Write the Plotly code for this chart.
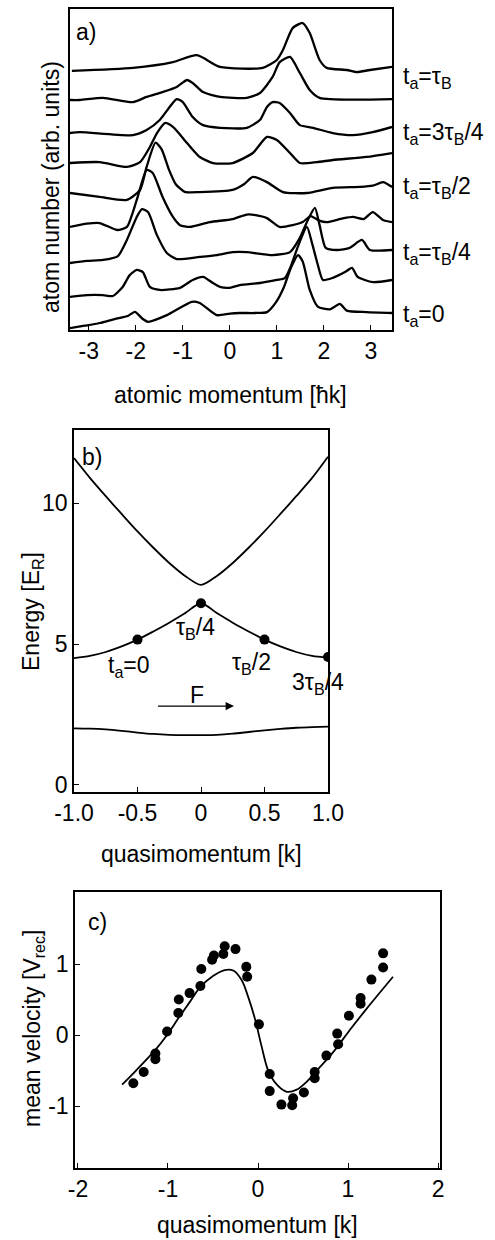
import plotly.graph_objects as go

W, H = 495, 1240
FONT = "Liberation Sans, Arial, Helvetica, sans-serif"

# ---------------- Panel a: momentum distributions (offset traces) ----------------
t0_x = [-3.40, -3.09, -2.77, -2.45, -2.17, -2.02, -1.85, -1.74, -1.34, -0.81, -0.64, -0.28, 0.0, 0.21, 0.53, 0.79,
        0.98, 1.15, 1.30, 1.45, 1.55, 1.70, 1.87, 2.13, 2.34, 2.49, 2.91, 3.45]
t0_y = [-0.50, -0.42, -0.33, -0.20, -0.10, 0.04, -0.20, -0.29, -0.07, 0.37, 0.33, -0.07, -0.02, 0.0, 0.0, 0.03,
        0.35, 0.85, 1.49, 1.91, 1.70, 0.76, 0.21, 0.12, 0.30, 0.08, 0.03, 0.0]

t1_x = [-3.40, -3.04, -2.70, -2.49, -2.28, -2.13, -1.98, -1.85, -1.70, -1.49, -1.06, -0.79, -0.57, -0.36, -0.21, 0.0,
        0.21, 0.64, 1.0, 1.17, 1.30, 1.45, 1.64, 1.75, 1.87, 1.98, 2.19, 2.45, 2.60, 2.72, 3.04, 3.45]
t1_y = [-0.47, -0.41, -0.41, -0.44, -0.14, 0.25, 0.42, 0.35, -0.14, -0.24, -0.17, 0.09, 0.19, -0.01, -0.14, -0.17,
        -0.08, -0.01, 0.09, 0.15, 0.55, 1.20, 1.84, 1.30, 0.60, 0.09, 0.16, 0.35, 0.49, 0.19, 0.02, 0.09]

t2_x = [-3.40, -3.04, -2.70, -2.38, -2.19, -1.98, -1.87, -1.74, -1.55, -1.34, -1.13, -0.64, -0.28, 0.06, 0.36, 0.91,
        1.28, 1.49, 1.66, 1.81, 1.91, 2.04, 2.28, 2.55, 2.81, 2.98, 3.45]
t2_y = [-0.35, -0.28, -0.25, -0.12, 0.41, 1.17, 1.43, 1.33, 0.57, -0.02, -0.22, -0.15, -0.09, 0.01, 0.01, -0.09,
        0.01, 0.48, 1.07, 1.47, 0.90, 0.15, 0.08, 0.15, 0.41, 0.08, 0.08]

t3_x = [-3.40, -3.04, -2.77, -2.40, -2.19, -1.98, -1.77, -1.64, -1.43, -1.21, -1.06, -0.85, -0.43, 0.06, 0.36, 0.55,
        0.79, 1.06, 1.34, 1.55, 1.72, 1.90, 2.06, 2.40, 2.62, 2.85, 3.04, 3.26, 3.45]
t3_y = [-0.16, -0.05, -0.03, -0.26, -0.16, 0.73, 1.72, 1.62, 0.83, 0.17, -0.10, -0.16, 0.0, 0.10, 0.25, 0.23,
        0.13, -0.16, -0.10, 0.0, 0.20, 0.05, 0.0, 0.12, 0.17, 0.10, 0.33, 0.07, 0.0]

t4_x = [-3.40, -2.77, -2.19, -1.91, -1.77, -1.58, -1.45, -1.30, -1.15, -0.96, -0.64, 0.06, 0.30, 0.49, 0.79, 1.13,
        1.64, 2.19, 2.77, 3.04, 3.26, 3.45]
t4_y = [-0.04, -0.17, -0.27, 0.06, 0.82, 1.62, 1.40, 0.75, 0.25, 0.0, -0.01, 0.06, 0.25, 0.49, 0.32, -0.01,
        -0.04, 0.13, 0.16, 0.20, 0.32, 0.16]

t5_x = [-3.40, -2.77, -2.19, -1.91, -1.70, -1.55, -1.38, -1.21, -0.91, -0.64, -0.36, 0.06, 0.49, 0.79, 1.0, 1.28,
        1.49, 1.85, 2.19, 2.91, 3.45]
t5_y = [-0.05, -0.02, -0.18, -0.02, 0.48, 0.94, 1.27, 1.14, 0.61, 0.15, -0.05, -0.05, 0.28, 0.81, 0.71, 0.28,
        -0.05, -0.02, 0.05, 0.15, 0.28]

t6_x = [-3.40, -3.19, -2.06, -1.77, -1.49, -1.28, -1.13, -1.0, -0.79, -0.57, -0.21, 0.36, 0.64, 0.79, 0.91, 1.06,
        1.28, 1.49, 1.77, 2.19, 2.62, 3.04, 3.45]
t6_y = [-0.06, -0.03, -0.13, 0.04, 0.37, 0.80, 1.06, 0.96, 0.47, 0.20, 0.11, 0.11, 0.37, 0.80, 0.96, 0.93,
        0.60, 0.20, 0.11, -0.06, -0.13, -0.03, 0.14]

t7_x = [-3.40, -3.19, -2.70, -2.06, -1.77, -1.43, -1.13, -0.91, -0.79, -0.57, -0.21, 0.36, 0.64, 0.91, 1.06, 1.28,
        1.49, 1.70, 1.91, 3.45]
t7_y = [0.03, 0.03, 0.10, -0.04, 0.13, 0.29, 0.46, 0.69, 0.59, 0.29, 0.13, 0.10, 0.26, 0.79, 1.28, 1.45,
        0.92, 0.36, 0.10, 0.06]

t8_x = [-3.36, -2.06, -1.21, -0.70, -0.21, 0.70, 1.0, 1.13, 1.34, 1.55, 1.70, 1.91, 2.06, 2.49, 2.70, 2.98, 3.45]
t8_y = [-0.01, 0.09, 0.28, 0.51, 0.12, 0.09, 0.35, 0.68, 1.41, 1.57, 1.24, 0.35, 0.09, 0.02, -0.05, 0.02, 0.12]

traces_a = [(t0_x, t0_y), (t1_x, t1_y), (t2_x, t2_y), (t3_x, t3_y), (t4_x, t4_y),
            (t5_x, t5_y), (t6_x, t6_y), (t7_x, t7_y), (t8_x, t8_y)]
trace_offsets = [0, 1, 2, 3, 4, 5, 6, 7, 8]
time_labels = ["t<sub>a</sub>=0", "t<sub>a</sub>=τ<sub>B</sub>/4", "t<sub>a</sub>=τ<sub>B</sub>/2",
               "t<sub>a</sub>=3τ<sub>B</sub>/4", "t<sub>a</sub>=τ<sub>B</sub>"]
time_label_rows = [315, 253, 187, 133, 78]  # pixel rows of the labels

momentum_ticks = [-3, -2, -1, 0, 1, 2, 3]

# ---------------- Panel b: band structure ----------------
quasi_q = [-1.0, -0.875, -0.75, -0.625, -0.5, -0.375, -0.25, -0.125, 0.0,
           0.125, 0.25, 0.375, 0.5, 0.625, 0.75, 0.875, 1.0]
band1_E = [2.01, 2.0, 1.97, 1.92, 1.86, 1.81, 1.78, 1.77, 1.77, 1.78, 1.82, 1.88, 1.94, 1.99, 2.03, 2.05, 2.07]
band2_E = [4.5, 4.58, 4.72, 4.92, 5.16, 5.45, 5.76, 6.1, 6.45, 6.1, 5.76, 5.45, 5.16, 4.92, 4.72, 4.58, 4.52]
band3_E = [11.6, 10.9, 10.25, 9.62, 9.0, 8.42, 7.88, 7.42, 7.1, 7.42, 7.88, 8.42, 9.0, 9.62, 10.25, 10.9, 11.65]
state_q = [-0.5, 0.0, 0.5, 1.0]
state_E = [5.16, 6.45, 5.16, 4.54]
state_labels = ["t<sub>a</sub>=0", "τ<sub>B</sub>/4", "τ<sub>B</sub>/2", "3τ<sub>B</sub>/4"]
state_label_q = [-0.57, -0.04, 0.40, 0.92]
state_label_E = [4.2, 5.55, 4.3, 3.6]

# ---------------- Panel c: mean velocity ----------------
vel_q = [-1.385, -1.27, -1.14, -1.14, -1.01, -0.885, -0.88, -0.76, -0.64, -0.63, -0.51, -0.49, -0.385, -0.37,
         -0.25, -0.13, -0.12, 0.01, 0.13, 0.13, 0.26, 0.38, 0.39, 0.51, 0.63, 0.63, 0.76, 0.89, 0.88, 1.01,
         1.14, 1.14, 1.26, 1.39, 1.39]
vel_v = [-0.68, -0.52, -0.26, -0.34, 0.05, 0.31, 0.50, 0.59, 0.69, 0.93, 1.06, 1.12, 1.14, 1.25,
         1.21, 0.96, 0.82, 0.15, -0.55, -0.79, -0.98, -0.99, -0.89, -0.81, -0.61, -0.52, -0.29, -0.13, 0.02, 0.27,
         0.44, 0.52, 0.78, 0.95, 1.15]
fit_q = [-1.51, -1.385, -1.14, -1.01, -0.885, -0.755, -0.645, -0.50, -0.37, -0.27, -0.18, -0.11, -0.03, 0.04,
         0.11, 0.21, 0.32, 0.43, 0.54, 0.69, 0.84, 1.02, 1.21, 1.50]
fit_v = [-0.70, -0.54, -0.21, 0.0, 0.235, 0.47, 0.67, 0.83, 0.915, 0.905, 0.77, 0.54, 0.21, -0.16,
         -0.49, -0.70, -0.80, -0.77, -0.66, -0.45, -0.235, 0.07, 0.375, 0.82]

# ---------------- Figure ----------------
fig = go.Figure()
LW = 2.3

for (xs, ys), off in zip(traces_a, trace_offsets):
    fig.add_trace(go.Scatter(x=xs, y=[v + off for v in ys], mode="lines",
                             line=dict(color="black", width=LW, shape="spline", smoothing=0.6),
                             xaxis="x", yaxis="y", showlegend=False, hoverinfo="skip"))

for band in (band1_E, band2_E, band3_E):
    fig.add_trace(go.Scatter(x=quasi_q, y=band, mode="lines",
                             line=dict(color="black", width=1.8, shape="spline", smoothing=0.8),
                             xaxis="x2", yaxis="y2", showlegend=False, hoverinfo="skip"))
fig.add_trace(go.Scatter(x=state_q, y=state_E, mode="markers",
                         marker=dict(color="black", size=10), cliponaxis=True,
                         xaxis="x2", yaxis="y2", showlegend=False))

fig.add_trace(go.Scatter(x=fit_q, y=fit_v, mode="lines",
                         line=dict(color="black", width=1.8, shape="spline", smoothing=0.8),
                         xaxis="x3", yaxis="y3", showlegend=False, hoverinfo="skip"))
fig.add_trace(go.Scatter(x=vel_q, y=vel_v, mode="markers",
                         marker=dict(color="black", size=10),
                         xaxis="x3", yaxis="y3", showlegend=False))

tickfont = dict(family=FONT, size=23, color="black")
axis_common = dict(showline=True, mirror=True, linecolor="black", linewidth=1.6,
                   ticks="inside", ticklen=5, tickcolor="black", tickwidth=1.3,
                   showgrid=False, zeroline=False, tickfont=tickfont, automargin=False)


def px(x):
    return x / W


def py(y):
    return 1 - y / H


fig.update_layout(
    width=W, height=H, margin=dict(l=0, r=0, t=0, b=0, pad=0, autoexpand=False),
    paper_bgcolor="white", plot_bgcolor="white",
    font=dict(family=FONT, color="black"),
    xaxis=dict(domain=[px(70), px(392)], range=[-3.40, 3.45], anchor="y",
               tickvals=momentum_ticks, ticktext=[str(v) for v in momentum_ticks],
               **axis_common),
    yaxis=dict(domain=[py(330), py(9)], range=[-0.561, 10.033], anchor="x",
               showticklabels=False, **{k: v for k, v in axis_common.items() if k != "ticks"}, ticks=""),
    xaxis2=dict(domain=[px(74), px(328)], range=[-1, 1], anchor="y2",
                tickvals=[-1, -0.5, 0, 0.5, 1], ticktext=["-1.0", "-0.5", "0", "0.5", "1.0"],
                **axis_common),
    yaxis2=dict(domain=[py(792), py(430)], range=[-0.25, 12.6], anchor="x2",
                tickvals=[0, 5, 10], ticktext=["0", "5", "10"], **axis_common),
    xaxis3=dict(domain=[px(75), px(440)], range=[-2.033, 2.022], anchor="y3",
                tickvals=[-2, -1, 0, 1, 2], ticktext=["-2", "-1", "0", "1", "2"], **axis_common),
    yaxis3=dict(domain=[py(1168), py(892)], range=[-1.873, 2.014], anchor="x3",
                tickvals=[-1, 0, 1], ticktext=["-1", "0", "1"], **axis_common),
)

ann = []
TF = dict(family=FONT, size=23, color="black")
LF = dict(family=FONT, size=23, color="black")

# panel a texts
ann.append(dict(text="atomic momentum [ħk]", x=px(230), y=py(395), xref="paper", yref="paper",
                showarrow=False, font=TF, xanchor="center", yanchor="middle"))
ann.append(dict(text="atom number (arb. units)", x=px(51), y=py(187), xref="paper", yref="paper",
                showarrow=False, font=TF, textangle=-90, xanchor="center", yanchor="middle"))
ann.append(dict(text="a)", x=px(74), y=py(32), xref="paper", yref="paper", showarrow=False,
                font=LF, xanchor="left", yanchor="middle"))
for lab, row in zip(time_labels, time_label_rows):
    ann.append(dict(text=lab, x=px(401), y=py(row), xref="paper", yref="paper", showarrow=False,
                    font=LF, xanchor="left", yanchor="middle"))

# panel b texts
ann.append(dict(text="Energy [E<sub>R</sub>]", x=px(32), y=py(612), xref="paper", yref="paper",
                showarrow=False, font=TF, textangle=-90, xanchor="center", yanchor="middle"))
ann.append(dict(text="quasimomentum [k]", x=px(201), y=py(854), xref="paper", yref="paper",
                showarrow=False, font=TF, xanchor="center", yanchor="middle"))
ann.append(dict(text="b)", x=px(80), y=py(457), xref="paper", yref="paper", showarrow=False,
                font=LF, xanchor="left", yanchor="middle"))
for lab, q, e in zip(state_labels, state_label_q, state_label_E):
    ann.append(dict(text=lab, x=q, y=e, xref="x2", yref="y2", showarrow=False, font=LF,
                    xanchor="center", yanchor="middle"))
ann.append(dict(text="F", x=-0.03, y=3.2, xref="x2", yref="y2", showarrow=False, font=LF,
                xanchor="center", yanchor="middle"))
ann.append(dict(text="", x=0.26, y=2.8, ax=-0.35, ay=2.8, xref="x2", yref="y2", axref="x2", ayref="y2",
                showarrow=True, arrowhead=2, arrowsize=1.2, arrowwidth=1.4, arrowcolor="black"))

# panel c texts
ann.append(dict(text="mean velocity [V<sub>rec</sub>]", x=px(33), y=py(1028), xref="paper", yref="paper",
                showarrow=False, font=TF, textangle=-90, xanchor="center", yanchor="middle"))
ann.append(dict(text="quasimomentum [k]", x=px(257), y=py(1225), xref="paper", yref="paper",
                showarrow=False, font=TF, xanchor="center", yanchor="middle", borderpad=0))
ann.append(dict(text="c)", x=px(86), y=py(922), xref="paper", yref="paper", showarrow=False,
                font=LF, xanchor="left", yanchor="middle"))

fig.update_layout(annotations=ann)
fig.write_html("out.html", config={"displayModeBar": False},
               post_script="document.body.style.margin='0';document.body.style.padding='0';"
                           "document.body.style.overflow='hidden';")
